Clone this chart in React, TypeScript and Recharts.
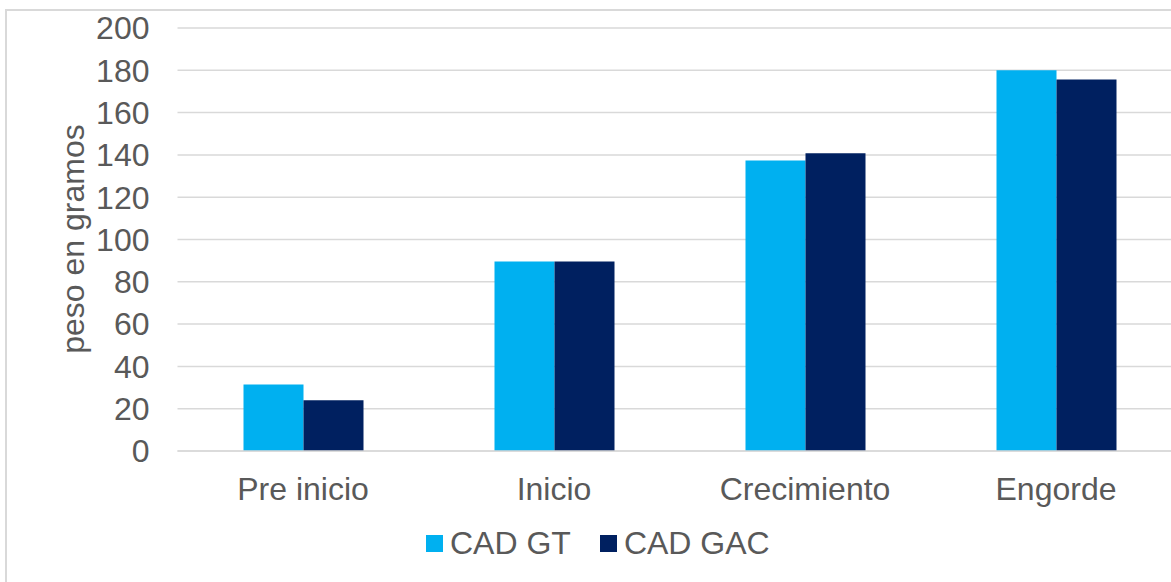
import React from "react";
import { BarChart, Bar, XAxis, YAxis, CartesianGrid, Label } from "recharts";

const etapas = ["Pre inicio", "Inicio", "Crecimiento", "Engorde"];
const cadGT = [31.4, 89.6, 137.4, 180];
const cadGAC = [24, 89.6, 140.8, 175.7];
const yTicks = [0, 20, 40, 60, 80, 100, 120, 140, 160, 180, 200];

const series = [
  { key: "gt", name: "CAD GT", color: "#00B0F0" },
  { key: "gac", name: "CAD GAC", color: "#002060" },
];

const data = etapas.map((etapa, i) => ({ etapa, gt: cadGT[i], gac: cadGAC[i] }));

const FONT = "'Liberation Sans', Arial, sans-serif";
const TEXT = "#595959";
const GRID = "#d9d9d9";
const FS = 32;

function Leyenda() {
  return (
    <div
      style={{
        position: "absolute",
        left: 426,
        top: 525,
        display: "flex",
        alignItems: "center",
        fontFamily: FONT,
        fontSize: FS,
        lineHeight: "37px",
        color: TEXT,
      }}
    >
      {series.map((s, i) => (
        <div key={s.key} style={{ display: "flex", alignItems: "center", marginLeft: i === 0 ? 0 : 29 }}>
          <span style={{ width: 17, height: 17, background: s.color, display: "inline-block", marginRight: 7 }} />
          <span>{s.name}</span>
        </div>
      ))}
    </div>
  );
}

export default function App() {
  return (
    <div style={{ position: "absolute", left: 0, top: 0, width: 1171, height: 582, overflow: "hidden", background: "#fff" }}>
      <div
        style={{
          position: "absolute",
          left: 5,
          top: 9,
          width: 1200,
          height: 620,
          border: `2px solid ${GRID}`,
          boxSizing: "border-box",
        }}
      />
      <div style={{ position: "absolute", left: 0, top: 0 }}>
        <BarChart
          width={1200}
          height={582}
          data={data}
          margin={{ top: 28, right: 18.5, left: 7.5, bottom: 71 }}
          barGap={0}
        >
          <CartesianGrid vertical={false} stroke={GRID} strokeWidth={1.5} />
          <XAxis
            dataKey="etapa"
            height={60}
            axisLine={{ stroke: GRID, strokeWidth: 1.5 }}
            tickLine={false}
            tickSize={0}
            tickMargin={26.5}
            tick={{ fill: TEXT, fontSize: FS, fontFamily: FONT }}
          />
          <YAxis
            width={170}
            domain={[0, 200]}
            ticks={yTicks}
            interval={0}
            axisLine={false}
            tickLine={false}
            tickSize={0}
            tickMargin={28}
            tick={{ fill: TEXT, fontSize: FS, fontFamily: FONT }}
          >
            <Label
              content={() => (
                <text
                  x={83.5}
                  y={239}
                  transform="rotate(-90 83.5 239)"
                  textAnchor="middle"
                  fill={TEXT}
                  fontSize={FS}
                  fontFamily={FONT}
                >
                  peso en gramos
                </text>
              )}
            />
          </YAxis>
          {series.map((s) => (
            <Bar key={s.key} dataKey={s.key} name={s.name} fill={s.color} barSize={60} isAnimationActive={false} />
          ))}
        </BarChart>
      </div>
      <Leyenda />
    </div>
  );
}
